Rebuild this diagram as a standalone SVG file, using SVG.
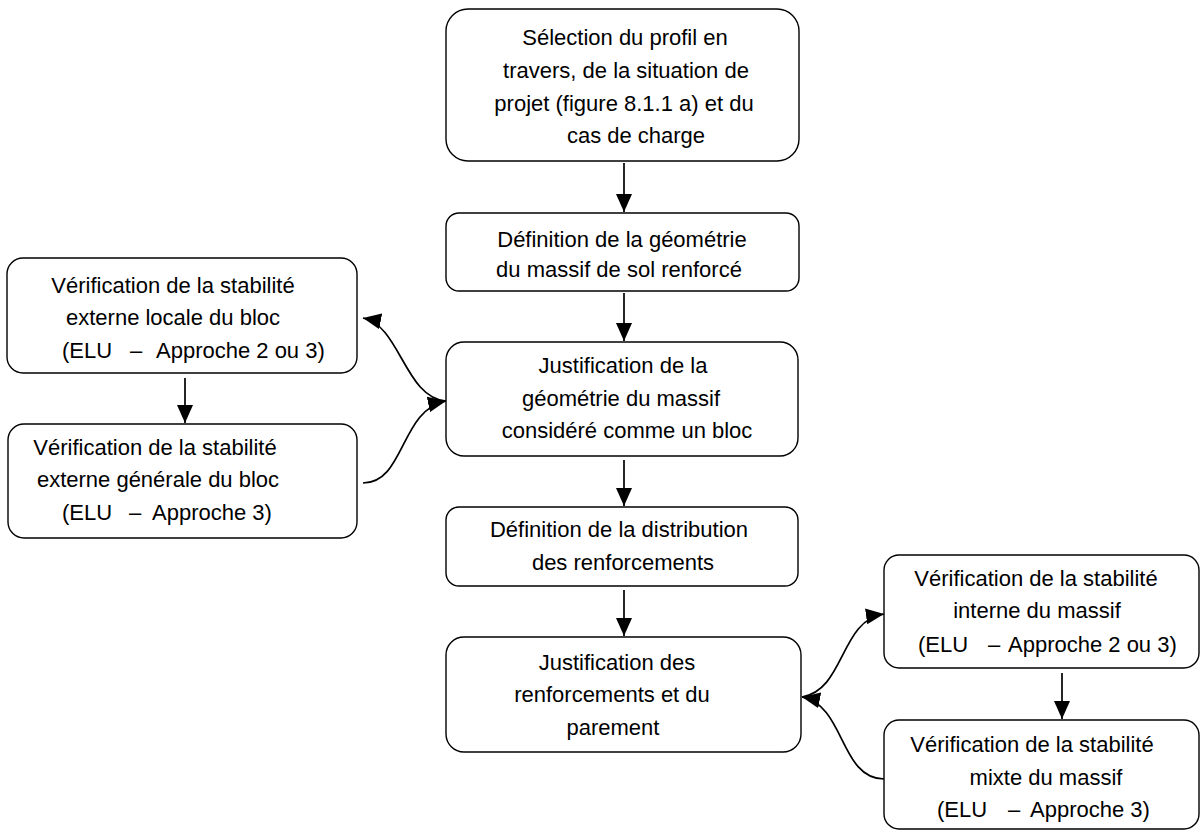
<svg xmlns="http://www.w3.org/2000/svg" width="1201" height="832" viewBox="0 0 1201 832">
<defs>
<marker id="ah" markerUnits="userSpaceOnUse" markerWidth="19" markerHeight="17" refX="18" refY="8" orient="auto">
<path d="M0,0 L18,8 L0,16 z" fill="#000"/>
</marker>
<style>
.box{fill:#fff;stroke:#000;stroke-width:1.4}
.t{font-family:"Liberation Sans",Arial,sans-serif;font-size:22px;fill:#000}
.m{text-anchor:middle}
.c{fill:none;stroke:#000;stroke-width:1.7;marker-end:url(#ah)}
</style>
</defs>
<rect width="1201" height="832" fill="#fff"/>
<g id="n1">
<rect class="box" x="446" y="9" width="353" height="152" rx="22"/>
<text class="t m" x="625" y="45">Sélection du profil en</text>
<text class="t m" x="626" y="78">travers, de la situation de</text>
<text class="t m" x="624" y="111">projet (figure 8.1.1 a) et du</text>
<text class="t m" x="636" y="143">cas de charge</text>
</g>
<g id="n2">
<rect class="box" x="446" y="213" width="353" height="78" rx="13"/>
<text class="t m" x="622" y="247">Définition de la géométrie</text>
<text class="t m" x="619" y="277">du massif de sol renforcé</text>
</g>
<g id="n3">
<rect class="box" x="446" y="342" width="352" height="114" rx="18"/>
<text class="t m" x="623" y="373">Justification de la</text>
<text class="t m" x="621" y="406">géométrie du massif</text>
<text class="t m" x="627" y="438">considéré comme un bloc</text>
</g>
<g id="n4">
<rect class="box" x="446" y="507" width="352" height="79" rx="13"/>
<text class="t m" x="619" y="537">Définition de la distribution</text>
<text class="t m" x="623" y="570">des renforcements</text>
</g>
<g id="n5">
<rect class="box" x="446" y="637" width="355" height="115" rx="18"/>
<text class="t m" x="617" y="670">Justification des</text>
<text class="t m" x="612" y="702">renforcements et du</text>
<text class="t m" x="613" y="735">parement</text>
</g>
<g id="nA">
<rect class="box" x="7" y="258" width="350" height="115" rx="16"/>
<text class="t m" x="173" y="293">Vérification de la stabilité</text>
<text class="t m" x="173" y="325">externe locale du bloc</text>
<text class="t" y="358"><tspan x="62">(ELU</tspan><tspan x="130">–</tspan><tspan x="156">Approche 2 ou 3)</tspan></text>
</g>
<g id="nB">
<rect class="box" x="8" y="424" width="349" height="114" rx="16"/>
<text class="t m" x="155" y="455">Vérification de la stabilité</text>
<text class="t m" x="158" y="487">externe générale du bloc</text>
<text class="t" y="520"><tspan x="62">(ELU</tspan><tspan x="129">–</tspan><tspan x="152">Approche 3)</tspan></text>
</g>
<g id="nC">
<rect class="box" x="884" y="555" width="315" height="113" rx="15"/>
<text class="t m" x="1036" y="586">Vérification de la stabilité</text>
<text class="t m" x="1037" y="618">interne du massif</text>
<text class="t" y="652"><tspan x="918">(ELU</tspan><tspan x="988">–</tspan><tspan x="1008">Approche 2 ou 3)</tspan></text>
</g>
<g id="nD">
<rect class="box" x="884" y="720" width="315" height="109" rx="15"/>
<text class="t m" x="1032" y="752">Vérification de la stabilité</text>
<text class="t m" x="1046" y="785">mixte du massif</text>
<text class="t" y="817"><tspan x="937">(ELU</tspan><tspan x="1008">–</tspan><tspan x="1030">Approche 3)</tspan></text>
</g>
<g id="connectors">
<line class="c" x1="624" y1="163" x2="624" y2="212"/>
<line class="c" x1="624" y1="293" x2="624" y2="341"/>
<line class="c" x1="624" y1="460" x2="624" y2="506"/>
<line class="c" x1="624" y1="590" x2="624" y2="636"/>
<line class="c" x1="185" y1="378" x2="185" y2="423"/>
<line class="c" x1="1062" y1="673" x2="1062" y2="719"/>
<path class="c" d="M446,401 C405,398 400,325 363,318"/>
<path class="c" d="M363,483 C405,483 400,410 446,401"/>
<path class="c" d="M802,697 C845,690 840,620 884,614"/>
<path class="c" d="M884,779 C840,779 845,705 802,697"/>
</g>
</svg>
